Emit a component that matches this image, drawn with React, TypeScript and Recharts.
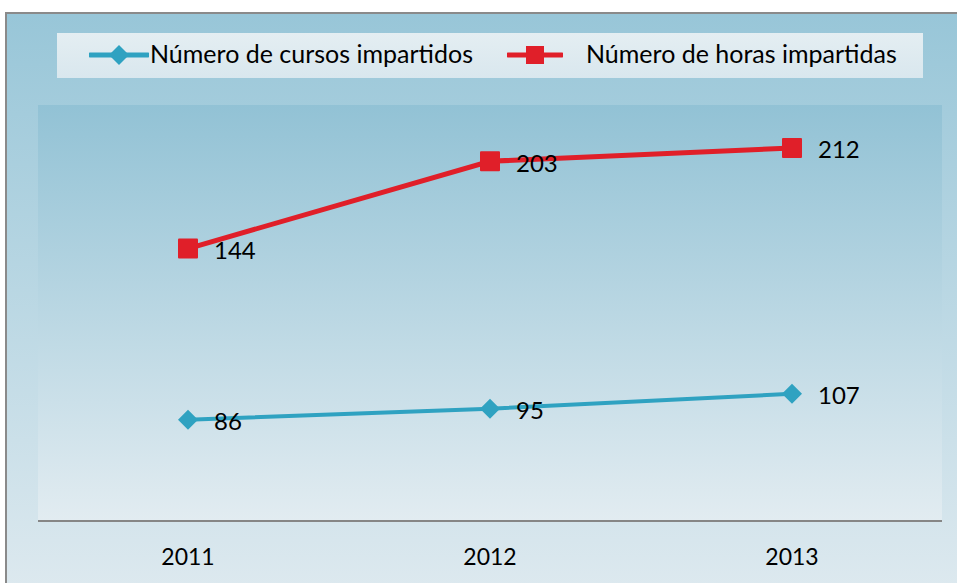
import { LineChart, Line, XAxis, YAxis, CartesianGrid, Legend, LabelList } from 'recharts';

const years = ['2011', '2012', '2013'];
const cursos = [86, 95, 107];
const horas = [144, 203, 212];
const seriesNames = ['Número de cursos impartidos', 'Número de horas impartidas'];

const data = years.map((year, i) => ({ year, cursos: cursos[i], horas: horas[i] }));

const BLUE = '#2fa2c1';
const RED = '#e01f29';
const FONT = 'Lato, "Open Sans", sans-serif';

const Diamond = (props: any) => {
    const { cx, cy, index } = props;
    if (cx == null || cy == null) return <g key={index} />;
    const r = 10;
    return (
        <path
            key={index}
            d={`M${cx},${cy - r} L${cx + r},${cy} L${cx},${cy + r} L${cx - r},${cy} Z`}
            fill={BLUE}
        />
    );
};

const Square = (props: any) => {
    const { cx, cy, index } = props;
    if (cx == null || cy == null) return <g key={index} />;
    const s = 20;
    return <rect key={index} x={cx - s / 2} y={cy - s / 2} width={s} height={s} fill={RED} rx={1} />;
};

function ChartLegend() {
    return (
        <div
            style={{
                position: 'relative',
                width: 866,
                height: 45,
                background: 'linear-gradient(#e4eef2, #d9e7ee)',
                fontFamily: FONT,
                fontSize: 25,
                color: '#000',
            }}
        >
            <svg width={60} height={24} style={{ position: 'absolute', left: 32, top: 10 }}>
                <line x1={1} y1={12} x2={59} y2={12} stroke={BLUE} strokeWidth={5} strokeLinecap="round" />
                <path d="M30,2 L40,12 L30,22 L20,12 Z" fill={BLUE} />
            </svg>
            <span style={{ position: 'absolute', left: 93, top: 5, whiteSpace: 'nowrap' }}>{seriesNames[0]}</span>
            <svg width={56} height={24} style={{ position: 'absolute', left: 450, top: 10 }}>
                <line x1={1} y1={12} x2={55} y2={12} stroke={RED} strokeWidth={5} strokeLinecap="round" />
                <rect x={19} y={3} width={18} height={18} fill={RED} />
            </svg>
            <span style={{ position: 'absolute', left: 529, top: 5, whiteSpace: 'nowrap' }}>{seriesNames[1]}</span>
        </div>
    );
}

export default function App() {
    return (
        <div style={{ position: 'absolute', left: 0, top: 0, width: 957, height: 583, overflow: 'hidden', background: '#fff' }}>
            <div
                style={{
                    position: 'absolute',
                    left: 5,
                    top: 12,
                    width: 970,
                    height: 600,
                    borderTop: '2px solid #8a8a8a',
                    borderLeft: '2px solid #8a8a8a',
                    background: 'linear-gradient(#98c6d8, #dde9ef 96%)',
                }}
            />
            <div style={{ position: 'absolute', left: 0, top: 0 }}>
                <LineChart width={957} height={583} data={data} margin={{ top: 105, right: 15, bottom: 32, left: 38 }}>
                    <defs>
                        <linearGradient id="plotBg" x1="0" y1="0" x2="0" y2="1">
                            <stop offset="0%" stopColor="#92c2d5" />
                            <stop offset="100%" stopColor="#e2ecf1" />
                        </linearGradient>
                    </defs>
                    <CartesianGrid horizontal={false} vertical={false} fill="url(#plotBg)" fillOpacity={1} />
                    <XAxis
                        dataKey="year"
                        height={30}
                        padding={{ left: 150, right: 150 }}
                        axisLine={{ stroke: '#868686', strokeWidth: 2 }}
                        tickLine={false}
                        tick={{ fill: '#000', fontSize: 23, fontFamily: FONT }}
                        tickMargin={22}
                    />
                    <YAxis yAxisId="cursos" hide domain={[4, 341]} />
                    <YAxis yAxisId="horas" hide domain={[-40, 241]} />
                    <Legend
                        layout="horizontal"
                        verticalAlign="middle"
                        align="center"
                        wrapperStyle={{ top: 33, left: 57, width: 866, height: 45 }}
                        content={() => <ChartLegend />}
                    />
                    <Line
                        yAxisId="cursos"
                        dataKey="cursos"
                        name={seriesNames[0]}
                        stroke={BLUE}
                        strokeWidth={4}
                        dot={Diamond}
                        activeDot={false}
                        isAnimationActive={false}
                    >
                        <LabelList dataKey="cursos" position="right" offset={26} dy={2} fill="#000" fontSize={24} fontFamily={FONT} />
                    </Line>
                    <Line
                        yAxisId="horas"
                        dataKey="horas"
                        name={seriesNames[1]}
                        stroke={RED}
                        strokeWidth={5}
                        dot={Square}
                        activeDot={false}
                        isAnimationActive={false}
                    >
                        <LabelList dataKey="horas" position="right" offset={26} dy={2} fill="#000" fontSize={24} fontFamily={FONT} />
                    </Line>
                </LineChart>
            </div>
        </div>
    );
}
